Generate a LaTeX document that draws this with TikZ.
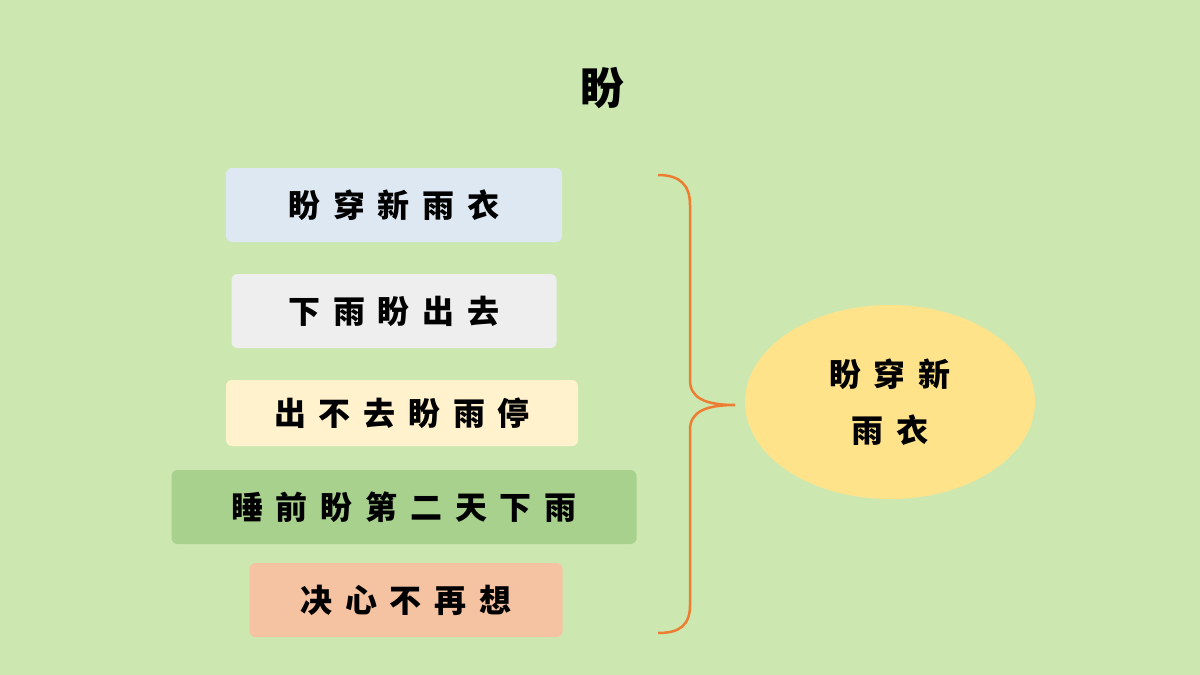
\documentclass[tikz,border=0pt]{standalone}
\usepackage{fontspec}
\newfontfamily\cjk[LetterSpace=40]{Noto Sans CJK SC}
\usetikzlibrary{positioning,shapes.geometric}
\definecolor{bg}{HTML}{CCE8B0}
\definecolor{cblue}{HTML}{DEE8F2}
\definecolor{cgray}{HTML}{EEEEEE}
\definecolor{ccream}{HTML}{FFF2CC}
\definecolor{cgreen}{HTML}{A9D18E}
\definecolor{csalmon}{HTML}{F5C2A2}
\definecolor{cyell}{HTML}{FFE38A}
\definecolor{corange}{HTML}{ED7D31}
\tikzset{item/.style={rounded corners=6pt,inner xsep=12pt,minimum height=74pt,font=\cjk\fontsize{32}{36}\selectfont\bfseries}}
\begin{document}
\begin{tikzpicture}[x=1pt,y=-1pt]
      \fill[bg] (0,0) rectangle (1200,675);
      \useasboundingbox (0,0) rectangle (1200,675);
      \node[font=\cjk\fontsize{44}{50}\selectfont\bfseries](title) at (602,88){盼};
      \node[item,fill=cblue,minimum width=336pt](i1) at (394,205){盼穿新雨衣};
      \node[item,fill=cgray,minimum width=325pt](i2) at (394,311){下雨盼出去};
      \node[item,fill=ccream,minimum width=352pt,minimum height=66pt](i3) at (402,413){出不去盼雨停};
      \node[item,fill=cgreen,minimum width=465pt](i4) at (404,507){睡前盼第二天下雨};
      \node[item,fill=csalmon,minimum width=313pt](i5) at (406,600){决心不再想};
      \node[ellipse,fill=cyell,minimum width=290pt,minimum height=194pt,align=center,
        font=\cjk\fontsize{32}{56}\selectfont\bfseries](res) at (890,402){盼穿新\\雨衣};
      % brace
      \draw[corange,line width=2.5pt] (658,175) .. controls (680,175) and (690,185) .. (690,205)
        -- (690,380) .. controls (690,398) and (705,405) .. (735,405)
        .. controls (705,405) and (690,412) .. (690,430)
        -- (690,605) .. controls (690,625) and (680,633) .. (658,633);
    \end{tikzpicture}
\end{document}
